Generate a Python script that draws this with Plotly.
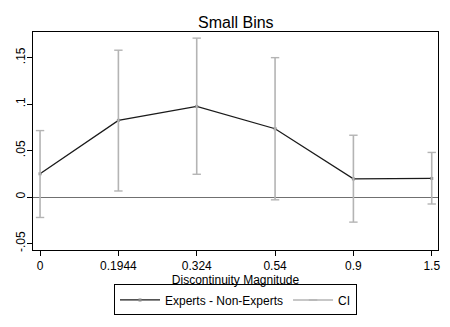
import plotly.graph_objects as go

## DATA
bins = ['0', '0.1944', '0.324', '0.54', '0.9', '1.5']
diff = [0.025, 0.0825, 0.0975, 0.0735, 0.0195, 0.020]
ci_lo = [-0.022, 0.0065, 0.0245, -0.003, -0.027, -0.0075]
ci_hi = [0.0715, 0.158, 0.171, 0.150, 0.0665, 0.048]
ytick_vals = [-0.05, 0, 0.05, 0.1, 0.15]
ytick_text = ['-.05', '0', '.05', '.1', '.15']

xpos = list(range(len(bins)))

# CI whiskers as segments with caps
ci_x = []
ci_y = []
for i in range(len(bins)):
    ci_x += [xpos[i], xpos[i], None]
    ci_y += [ci_lo[i], ci_hi[i], None]

fig = go.Figure()
fig.add_trace(go.Scatter(
    x=xpos, y=diff,
    mode='lines+markers',
    name='Experts - Non-Experts',
    line=dict(color='#1a1a1a', width=1.3),
    marker=dict(symbol='square', size=3, color='#888888')
))
fig.add_trace(go.Scatter(
    x=ci_x, y=ci_y,
    mode='lines+markers',
    name='CI',
    line=dict(color='#b4b4b4', width=1.6),
    marker=dict(symbol='line-ew', size=6, color='#b4b4b4',
                line=dict(color='#b4b4b4', width=1.4))
))

font = 'Liberation Sans, Arial, sans-serif'
fig.update_layout(
    width=450, height=327,
    margin=dict(l=33, r=12, t=32, b=74),
    paper_bgcolor='white', plot_bgcolor='white',
    font=dict(family=font, size=12, color='black'),
    title=dict(text='Small Bins', x=0.524, xanchor='center', y=0.933, yanchor='middle',
               font=dict(size=16, color='black')),
    showlegend=True,
    legend=dict(orientation='h', x=0.5, xanchor='center', y=-0.158, yanchor='top',
                bordercolor='black', borderwidth=1, font=dict(size=12),
                itemwidth=40),
    xaxis=dict(
        range=[-0.09, 5.08], tickmode='array', tickvals=xpos, ticktext=bins,
        showgrid=False, zeroline=False, showline=True, linecolor='black', linewidth=1,
        mirror=True, ticks='outside', ticklen=5, tickcolor='black',
        automargin=False, ticklabeloverflow='allow',
        title=dict(text='Discontinuity Magnitude', standoff=0, font=dict(size=12))
    ),
    yaxis=dict(
        range=[-0.057, 0.1776], tickmode='array', tickvals=ytick_vals, ticktext=ytick_text,
        tickangle=-90, showgrid=False, zeroline=True, zerolinecolor='#707070',
        zerolinewidth=1, showline=True, linecolor='black', linewidth=1,
        mirror=True, ticks='outside', ticklen=5, tickcolor='black',
        automargin=False, ticklabelstandoff=-3
    )
)

fig.write_html("out.html", config={'displayModeBar': False},
               post_script="document.body.style.margin='0';document.body.style.overflow='hidden';")
